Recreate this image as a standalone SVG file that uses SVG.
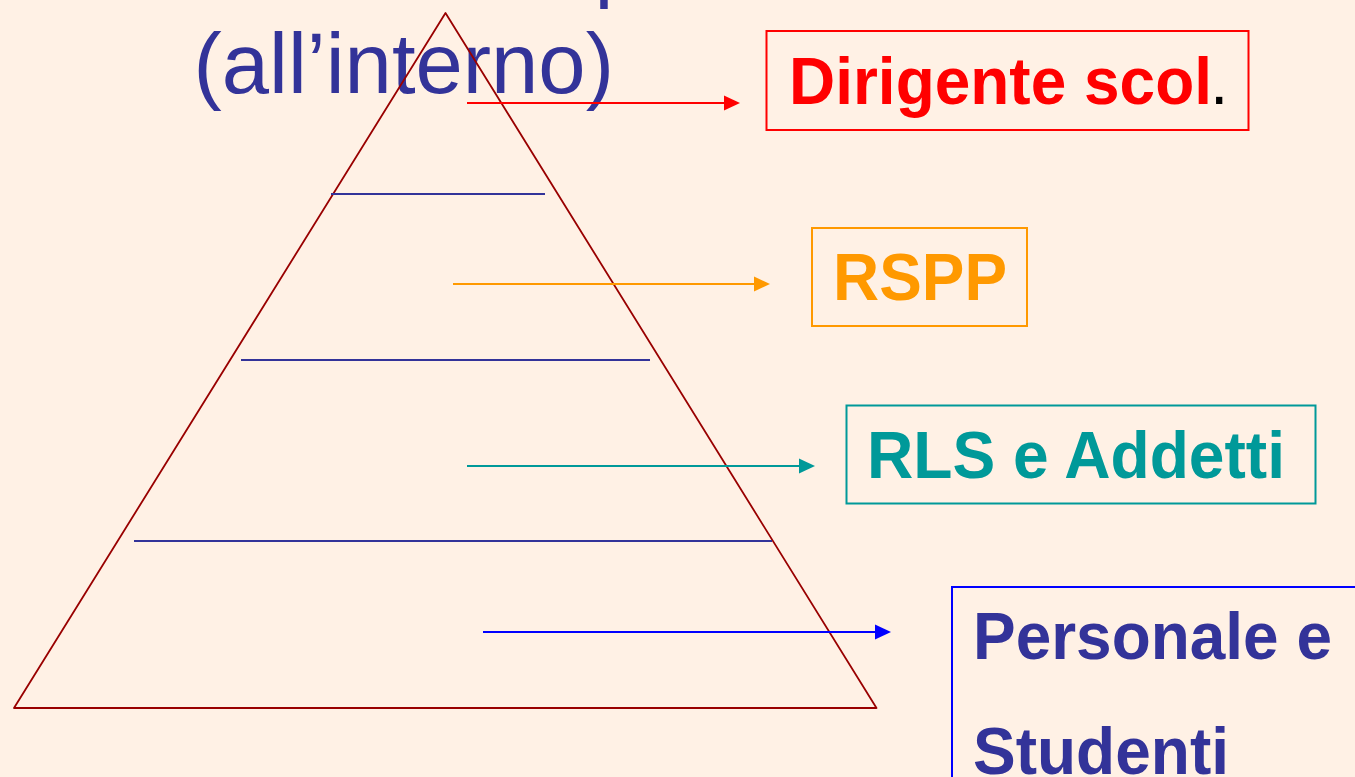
<svg xmlns="http://www.w3.org/2000/svg" width="1355" height="777" viewBox="0 0 1355 777">
<defs>
<marker id="ar" markerUnits="userSpaceOnUse" markerWidth="16" markerHeight="18" refX="8" refY="9" orient="auto"><path d="M0 1.500L16 9L0 16.500Z" fill="context-stroke"/></marker>
</defs>
<style>
.title{font:85px "Liberation Sans",Arial,sans-serif;fill:#333399}
.lab{font:bold 66px "Liberation Sans",Arial,sans-serif}
.box{fill:none;stroke-width:2}
.div{stroke:#333399;stroke-width:2;fill:none}
.con{fill:none;stroke-width:2;marker-end:url(#ar)}
</style>
<rect width="1355" height="777" fill="#fff1e5"/>
<g id="title">
<text class="title" x="594.500" y="-9">p</text>
<text class="title" x="193.500" y="92.500">(all’interno)</text>
</g>
<g id="pyramid">
<path d="M445.500 13L876.500 708H14Z" fill="none" stroke="#990000" stroke-width="1.800" stroke-linejoin="round"/>
<path class="div" d="M331 194H545"/>
<path class="div" d="M241 360H650"/>
<path class="div" d="M134 541H772"/>
</g>
<g id="connectors">
<path class="con" stroke="#ff0000" d="M467 103H732"/>
<path class="con" stroke="#ff9900" d="M453 284H762"/>
<path class="con" stroke="#009999" d="M467 466H807"/>
<path class="con" stroke="#0000ff" d="M483 632H883"/>
</g>
<g id="node-dirigente">
<rect class="box" stroke="#ff0000" x="766.500" y="31" width="482" height="99"/>
<text class="lab" x="789" y="104" fill="#ff0000" textLength="423" lengthAdjust="spacingAndGlyphs">Dirigente scol</text>
<text x="1210" y="104" fill="#000000" style="font:66px 'Liberation Sans',Arial,sans-serif">.</text>
</g>
<g id="node-rspp">
<rect class="box" stroke="#ff9900" x="812" y="228" width="215" height="98"/>
<text class="lab" x="833" y="300" fill="#ff9900" textLength="174" lengthAdjust="spacingAndGlyphs">RSPP</text>
</g>
<g id="node-rls">
<rect class="box" stroke="#009999" x="846.500" y="405.500" width="469" height="98"/>
<text class="lab" x="867" y="478" fill="#009999" textLength="418" lengthAdjust="spacingAndGlyphs">RLS e Addetti</text>
</g>
<g id="node-personale">
<rect class="box" stroke="#0000ff" x="952" y="587" width="420" height="210"/>
<text class="lab" x="973" y="659" fill="#333399" textLength="359" lengthAdjust="spacingAndGlyphs">Personale e</text>
<text class="lab" x="973" y="774" fill="#333399" textLength="256" lengthAdjust="spacingAndGlyphs">Studenti</text>
</g>
</svg>
